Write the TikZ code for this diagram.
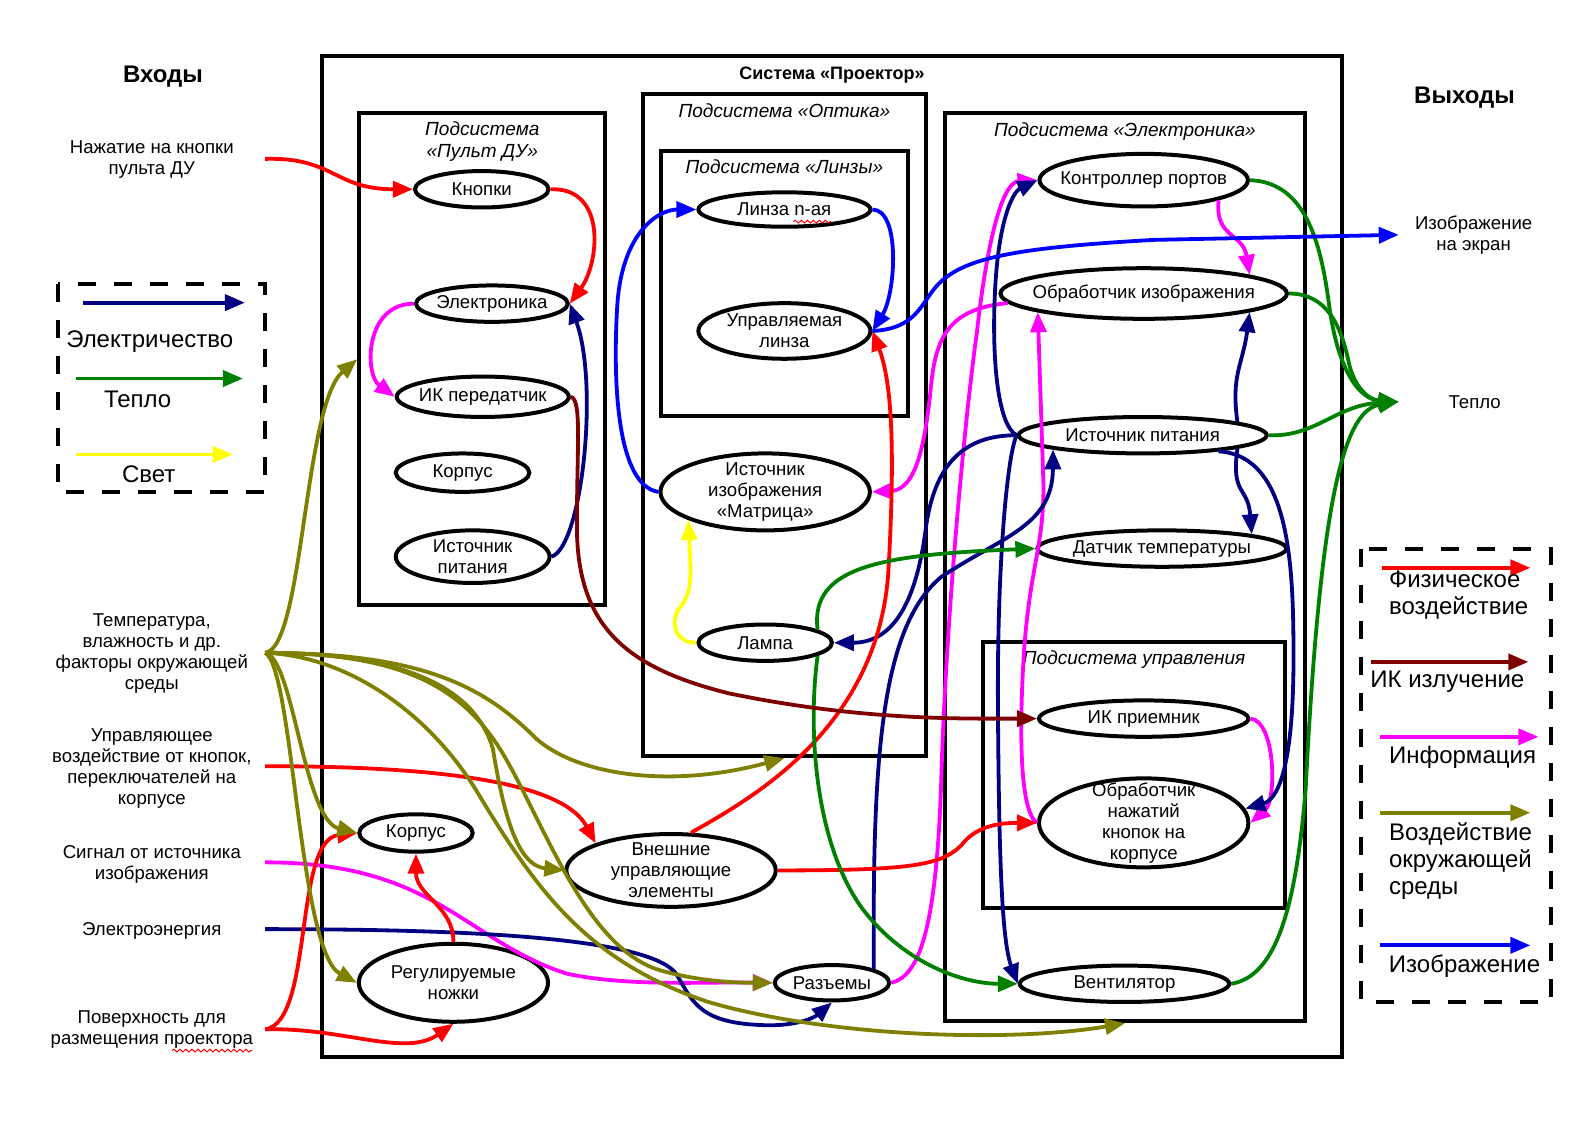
\documentclass[tikz,border=0pt]{standalone}
\usepackage{fontspec}
\setmainfont{Liberation Sans}
\usepackage{tikz}
\usetikzlibrary{arrows.meta}
\usetikzlibrary{positioning}
\usetikzlibrary{shapes.geometric}
\usetikzlibrary{decorations.pathmorphing}
\definecolor{elnavy}{RGB}{0,0,128}
\definecolor{heatgreen}{RGB}{0,128,0}
\definecolor{irmaroon}{RGB}{128,0,0}
\definecolor{envolive}{RGB}{128,128,0}
\definecolor{infomag}{RGB}{255,0,255}
\definecolor{lightyel}{RGB}{255,255,0}
\definecolor{physred}{RGB}{255,0,0}
\definecolor{imgblue}{RGB}{0,0,255}
\tikzset{>={Triangle[length=10pt,width=8pt]}}
\tikzset{
  blob/.style={ellipse, draw, line width=2pt, inner sep=-8pt, align=center,
    font=\fontsize{9.3}{10.5}\selectfont},
  subsys/.style={rectangle, draw, line width=2pt, inner sep=0pt},
  subtitle/.style={font=\fontsize{9.5}{11}\selectfont\itshape, align=center, inner sep=0pt},
  lbl/.style={font=\fontsize{9.3}{10.5}\selectfont, align=center, inner sep=0pt},
  leg/.style={font=\fontsize{12}{13.5}\selectfont, align=left, inner sep=0pt},
  head/.style={font=\fontsize{12}{14}\selectfont\bfseries, inner sep=0pt},
  legbox/.style={draw, line width=2pt, dash pattern=on 9pt off 9pt},
  spell/.style={draw=physred, line width=0.5pt, decorate,
    decoration={snake, amplitude=0.7pt, segment length=3pt}},
  flow/.style={line width=1.9pt, ->},
  phys/.style={flow, draw=physred},
  info/.style={flow, draw=infomag},
  elec/.style={flow, draw=elnavy},
  heat/.style={flow, draw=heatgreen},
  light/.style={flow, draw=lightyel},
  img/.style={flow, draw=imgblue},
  ir/.style={flow, draw=irmaroon},
  env/.style={flow, draw=envolive}
}

\begin{document}
\begin{tikzpicture}[x=0.506pt, y=-0.506pt]
\useasboundingbox (0,0) rectangle (1568,1110);

\node[subsys, minimum width=510pt, minimum height=500.5pt] (sys) at (822,550) {};
\node[subsys, minimum width=123pt, minimum height=246pt] (pult) at (476.5,355) {};
\node[subsys, minimum width=141.7pt, minimum height=331pt] (optika) at (775,420) {};
\node[subsys, minimum width=123.5pt, minimum height=132.6pt] (linzy) at (775,280) {};
\node[subsys, minimum width=179.6pt, minimum height=453.9pt] (elektr) at (1111.5,560.5) {};
\node[subsys, minimum width=151.3pt, minimum height=133.1pt] (upr) at (1120.5,765.5) {};

\node[head, font=\fontsize{9}{11}\selectfont\bfseries, below=6pt of sys.north] (sysT) {Система «Проектор»};
\node[subtitle, below=5pt of pult.north] (pultT) {Подсистема\\«Пульт ДУ»};
\node[subtitle, below=5.5pt of optika.north] (optikaT) {Подсистема «Оптика»};
\node[subtitle, below=5.5pt of linzy.north] (linzyT) {Подсистема «Линзы»};
\node[subtitle, below=5.5pt of elektr.north] (elektrT) {Подсистема «Электроника»};
\node[subtitle, below=5.5pt of upr.north] (uprT) {Подсистема управления};

\node[head] (vhody) at (161,76) {Входы};
\node[head] (vyhody) at (1447,96) {Выходы};

\node[blob, minimum width=66.8pt, minimum height=18.2pt] (knopki) at (476,187) {Кнопки};
\node[blob, minimum width=75.9pt, minimum height=18.2pt] (rElec) at (486,300) {Электроника};
\node[blob, minimum width=86pt, minimum height=20.2pt] (ikPer) at (477,392) {ИК передатчик};
\node[blob, minimum width=66.8pt, minimum height=19.2pt] (rKorp) at (457,467) {Корпус};
\node[blob, minimum width=76.9pt, minimum height=26.3pt] (rIst) at (467,550) {Источник\\питания};

\node[blob, minimum width=86pt, minimum height=17.2pt] (linzaN) at (775,207) {Линза n-ая};
\node[blob, minimum width=86pt, minimum height=27.8pt] (ulinza) at (775,327) {Управляемая\\линза};
\node[blob, minimum width=104.7pt, minimum height=38.5pt] (matr) at (756,486) {Источник\\изображения\\«Матрица»};
\node[blob, minimum width=66.8pt, minimum height=18.2pt] (lampa) at (756,635) {Лампа};

\node[blob, minimum width=104.2pt, minimum height=26.3pt] (kontr) at (1130,178) {Контроллер портов};
\node[blob, minimum width=143.2pt, minimum height=25.3pt] (obrIz) at (1130,290) {Обработчик изображения};
\node[blob, minimum width=124pt, minimum height=18.2pt] (ist) at (1129,430) {Источник питания};
\node[blob, minimum width=124.5pt, minimum height=18.2pt] (dat) at (1148,542) {Датчик температуры};
\node[blob, minimum width=104.7pt, minimum height=18.2pt] (ikPr) at (1130,710) {ИК приемник};
\node[blob, minimum width=104.7pt, minimum height=44.5pt] (obrKn) at (1130,813) {Обработчик\\нажатий\\кнопок на\\корпусе};
\node[blob, minimum width=104.7pt, minimum height=18.2pt] (vent) at (1111,972) {Вентилятор};

\node[blob, minimum width=56.7pt, minimum height=18.7pt] (korpus) at (411,823) {Корпус};
\node[blob, minimum width=94.6pt, minimum height=39pt] (nozhki) at (448,971) {Регулируемые\\ножки};
\node[blob, minimum width=104.7pt, minimum height=36.4pt] (vnesh) at (663,860) {Внешние\\управляющие\\элементы};
\node[blob, minimum width=57.2pt, minimum height=17.7pt] (razem) at (822,971) {Разъемы};

\node[lbl] (tPress) at (150,158) {Нажатие на кнопки\\пульта ДУ};
\node[lbl] (tEnv) at (150,646) {Температура,\\влажность и др.\\факторы окружающей\\среды};
\node[lbl] (tCtrl) at (150,759) {Управляющее\\воздействие от кнопок,\\переключателей на\\корпусе};
\node[lbl] (tSig) at (150,854) {Сигнал от источника\\изображения};
\node[lbl] (tPow) at (150,920) {Электроэнергия};
\node[lbl] (tSurf) at (150,1017) {Поверхность для\\размещения проектора};
\node[lbl] (tImg) at (1456,232) {Изображение\\на экран};
\node[lbl] (tHeat) at (1457,397) {Тепло};

\coordinate (inPress) at (262,157);
\coordinate (inEnv) at (262,645);
\coordinate (inCtrl) at (262,757);
\coordinate (inSig) at (262,852);
\coordinate (inPow) at (262,918);
\coordinate (inSurf) at (262,1017);
\coordinate (outImg) at (1382,232);
\coordinate (outHeat) at (1382,397);

\draw[spell] (784,219) -- (821,219);
\draw[spell] (170,1038) -- (249,1038);

\draw[legbox] (57,281) rectangle (262,486);
\draw[elec] (82,299) -- (242,299);
\draw[heat] (75,374) -- (240,374);
\draw[light] (75,449) -- (230,449);
\node[leg] (lgElec) at (148,338) {Электричество};
\node[leg] (lgHeat) at (136,395) {Тепло};
\node[leg] (lgLight) at (147,469) {Свет};

\draw[legbox] (1345,542) rectangle (1532,990);
\draw[phys] (1365,561) -- (1512,561);
\draw[ir] (1355,654) -- (1510,654);
\draw[info] (1363,728) -- (1520,728);
\draw[env] (1363,803) -- (1512,803);
\draw[img] (1363,934) -- (1512,934);
\node[leg, anchor=west] (lgPhys) at (1372,588) {Физическое\\воздействие};
\node[leg] (lgIr) at (1430,674) {ИК излучение};
\node[leg] (lgInfo) at (1445,748) {Информация};
\node[leg, anchor=west] (lgEnv) at (1372,851) {Воздействие\\окружающей\\среды};
\node[leg] (lgImg) at (1447,955) {Изображение};

\draw[info] (rElec.west) .. controls (360,300) and (360,370) .. (ikPer.west);
\draw[info] (kontr.-15) .. controls (1200,235) and (1228,230) .. (obrIz.10);
\draw[info] (obrIz.184) .. controls (940,305) and (925,330) .. (920,380) .. controls (914,440) and (905,484) .. (matr.east);
\draw[info] (inSig) .. controls (430,852) and (460,930) .. (560,962) .. controls (620,975) and (700,970) .. (razem.west);
\draw[info] (razem.east) .. controls (905,965) and (925,930) .. (930,770) .. controls (935,600) and (955,400) .. (965,330) .. controls (975,240) and (990,180) .. (kontr.west);
\draw[info] (ikPr.east) .. controls (1260,712) and (1262,790) .. (obrKn.east);
\draw[info] (obrKn.west) .. controls (1005,800) and (1008,700) .. (1012,640) .. controls (1018,560) and (1031,540) .. (1031,480) -- (obrIz.190);

\draw[elec] (rIst.east) .. controls (575,540) and (592,380) .. (rElec.east);
\draw[elec] (inPow) .. controls (450,918) and (640,925) .. (668,962) .. controls (685,990) and (690,1012) .. (760,1013) .. controls (790,1013) and (805,1005) .. (razem.south);
\draw[elec] (razem.north east) .. controls (862,750) and (870,620) .. (930,570) .. controls (990,530) and (1040,520) .. (ist.189);
\draw[elec] (ist.west) .. controls (960,430) and (925,450) .. (915,520) .. controls (905,600) and (880,635) .. (lampa.east);
\draw[elec] (ist.west) .. controls (985,420) and (980,350) .. (983,290) .. controls (986,220) and (1000,190) .. (kontr.west);
\draw[elec] (ist.west) .. controls (995,450) and (985,560) .. (986,700) .. controls (987,850) and (990,930) .. (vent.west);
\draw[elec] (ist.8) .. controls (1216,370) and (1228,360) .. (obrIz.-10);
\draw[elec] (ist.-8) .. controls (1216,490) and (1233,480) .. (dat.9);
\draw[elec] (ist.-12) .. controls (1275,450) and (1278,560) .. (1278,650) .. controls (1278,760) and (1262,790) .. (obrKn.8);

\draw[phys] (inPress) .. controls (330,155) and (330,187) .. (knopki.west);
\draw[phys] (knopki.east) .. controls (600,185) and (592,260) .. (rElec.east);
\draw[phys] (inCtrl) .. controls (470,757) and (560,780) .. (vnesh.north west);
\draw[phys] (vnesh.62) .. controls (740,790) and (870,720) .. (878,560) .. controls (884,450) and (882,380) .. (ulinza.east);
\draw[phys] (vnesh.east) .. controls (900,860) and (930,855) .. (950,835) .. controls (965,815) and (990,813) .. (obrKn.west);
\draw[phys] (nozhki.north) .. controls (448,895) and (411,885) .. (korpus.south);
\draw[phys] (inSurf) .. controls (310,1010) and (290,830) .. (korpus.west);
\draw[phys] (inSurf) .. controls (340,1015) and (400,1045) .. (nozhki.south);

\draw[heat] (kontr.east) .. controls (1290,180) and (1305,240) .. (1313,300) .. controls (1322,370) and (1345,395) .. (outHeat);
\draw[heat] (obrIz.east) .. controls (1310,290) and (1325,320) .. (1333,360) .. controls (1338,380) and (1350,395) .. (outHeat);
\draw[heat] (ist.east) .. controls (1300,432) and (1320,400) .. (outHeat);
\draw[heat] (vent.east) .. controls (1260,965) and (1280,900) .. (1290,780) .. controls (1305,480) and (1330,405) .. (outHeat);
\draw[heat] (lampa.14) .. controls (800,560) and (870,548) .. (dat.west);
\draw[heat] (lampa.-14) .. controls (798,720) and (805,830) .. (850,895) .. controls (890,950) and (950,972) .. (vent.west);

\draw[light] (lampa.west) .. controls (665,635) and (662,612) .. (672,600) .. controls (684,585) and (683,570) .. (matr.200);

\draw[img] (matr.west) .. controls (610,480) and (605,380) .. (610,300) .. controls (615,230) and (650,207) .. (linzaN.west);
\draw[img] (linzaN.east) .. controls (890,207) and (885,290) .. (ulinza.east);
\draw[img] (ulinza.east) .. controls (905,325) and (910,300) .. (925,283) .. controls (950,255) and (1000,245) .. (1140,237) -- (outImg);

\draw[ir] (ikPer.east) .. controls (575,395) and (570,440) .. (570,520) .. controls (570,620) and (620,660) .. (720,685) .. controls (850,712) and (950,710) .. (ikPr.west);

\draw[env] (inEnv) .. controls (300,640) and (300,400) .. (pult.west);
\draw[env] (inEnv) .. controls (290,650) and (300,810) .. (korpus.west);
\draw[env] (inEnv) .. controls (290,660) and (295,940) .. (nozhki.west);
\draw[env] (inEnv) .. controls (420,645) and (480,680) .. (530,730) .. controls (570,765) and (660,780) .. (optika.south);
\draw[env] (inEnv) .. controls (400,645) and (470,680) .. (487,740) .. controls (497,800) and (510,855) .. (vnesh.west);
\draw[env] (inEnv) .. controls (400,645) and (460,680) .. (500,750) .. controls (540,820) and (580,935) .. (650,958) .. controls (690,970) and (730,971) .. (razem.west);
\draw[env] (inEnv) .. controls (340,648) and (420,700) .. (470,780) .. controls (530,880) and (580,950) .. (700,990) .. controls (820,1025) and (1000,1030) .. (elektr.south);
\end{tikzpicture}
\end{document}
